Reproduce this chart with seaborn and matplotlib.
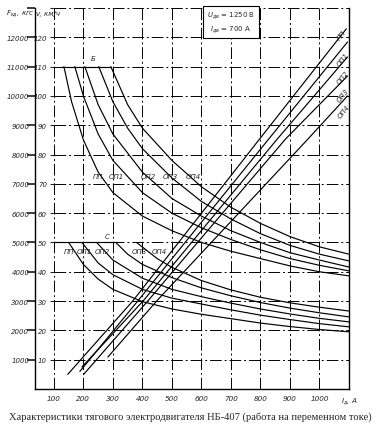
import matplotlib
matplotlib.use("Agg")
import matplotlib.pyplot as plt
import seaborn as sns
import pandas as pd

sns.set_theme(style="white")
plt.rcParams['font.family'] = ['DejaVu Sans']

modes = ["ПП", "ОП1", "ОП2", "ОП3", "ОП4"]

# Speed characteristics, position "Б" (I, A -> v, km/h)
b_pp_i = [134, 160, 200, 250, 300, 400, 500, 600, 700, 800, 900, 1000, 1100]
b_pp_v = [110, 98, 85, 74, 67, 59, 54, 50, 47, 44.5, 42, 40, 38.6]
b_op1_i = [171, 200, 250, 300, 400, 500, 600, 700, 800, 900, 1000, 1100]
b_op1_v = [110, 100, 87, 78, 67, 60, 55, 51, 47.5, 44.5, 42.2, 40.3]
b_op2_i = [205, 250, 300, 400, 500, 600, 700, 800, 900, 1000, 1100]
b_op2_v = [110, 97, 87, 74, 65, 59, 54, 50, 46.5, 44, 41.6]
b_op3_i = [252, 300, 350, 400, 500, 600, 700, 800, 900, 1000, 1100]
b_op3_v = [110, 98, 89, 82, 72, 64, 58, 53, 49, 46, 43.7]
b_op4_i = [293, 350, 400, 500, 600, 700, 800, 900, 1000, 1100]
b_op4_v = [110, 97, 89, 78, 69, 62, 56.5, 52, 48.5, 46]

# Speed characteristics, position "С"
c_pp_i = [150, 200, 250, 300, 400, 500, 600, 700, 800, 900, 1000, 1100]
c_pp_v = [50, 42.5, 37.5, 34, 29.8, 27.3, 25.5, 24, 22.5, 21.3, 20.3, 19.5]
c_op1_i = [195, 250, 300, 400, 500, 600, 700, 800, 900, 1000, 1100]
c_op1_v = [50, 43, 39, 34, 31, 29, 27, 25.2, 23.7, 22.3, 21.2]
c_op2_i = [245, 300, 400, 500, 600, 700, 800, 900, 1000, 1100]
c_op2_v = [50, 44, 37.8, 34, 31.5, 29.3, 27.3, 25.6, 24.1, 22.9]
c_op3_i = [310, 350, 400, 500, 600, 700, 800, 900, 1000, 1100]
c_op3_v = [50, 46, 42.5, 38, 34.5, 31.8, 29.5, 27.6, 26, 24.6]
c_op4_i = [380, 450, 500, 600, 700, 800, 900, 1000, 1100]
c_op4_v = [50, 44.5, 41.5, 37, 33.8, 31.3, 29.4, 27.9, 26.6]

# Tractive force (I, A -> F, kgf)
f_pp_i = [147, 367, 797, 1091]
f_pp_f = [500, 3000, 8530, 12290]
f_op1_i = [188, 384, 828, 1095]
f_op1_f = [600, 3000, 8530, 11840]
f_op2_i = [195, 402, 857, 1095]
f_op2_f = [750, 3000, 8530, 11330]
f_op3_i = [201, 418, 885, 1095]
f_op3_f = [500, 3000, 8530, 10680]
f_op4_i = [283, 448, 961, 1095]
f_op4_f = [1090, 3000, 8530, 10000]

# speed limit lines
lim_b_i = [120, 293]
lim_b_v = [110, 110]
lim_c_i = [100, 310]
lim_c_v = [50, 50]

v_ticks = [10, 20, 30, 40, 50, 60, 70, 80, 90, 100, 110, 120, 130]
f_ticks = [1000, 2000, 3000, 4000, 5000, 6000, 7000, 8000, 9000, 10000, 11000, 12000, 13000]
i_ticks = [100, 200, 300, 400, 500, 600, 700, 800, 900, 1000, 1100]

caption = "Характеристики тягового электродвигателя НБ-407 (работа на переменном токе)"

# ---------- build long tables ----------
rows = []
speed_sets = [
    ("Б", [(b_pp_i, b_pp_v), (b_op1_i, b_op1_v), (b_op2_i, b_op2_v), (b_op3_i, b_op3_v), (b_op4_i, b_op4_v)]),
    ("С", [(c_pp_i, c_pp_v), (c_op1_i, c_op1_v), (c_op2_i, c_op2_v), (c_op3_i, c_op3_v), (c_op4_i, c_op4_v)]),
]
for pos, series in speed_sets:
    for m, (ii, vv) in zip(modes, series):
        for a, b in zip(ii, vv):
            rows.append({"I": a, "v": b, "curve": f"{pos}-{m}"})
for name, ii, vv in [("limБ", lim_b_i, lim_b_v), ("limС", lim_c_i, lim_c_v)]:
    for a, b in zip(ii, vv):
        rows.append({"I": a, "v": b, "curve": name})
df_v = pd.DataFrame(rows)

rows = []
for m, (ii, ff) in zip(modes, [(f_pp_i, f_pp_f), (f_op1_i, f_op1_f), (f_op2_i, f_op2_f),
                               (f_op3_i, f_op3_f), (f_op4_i, f_op4_f)]):
    for a, b in zip(ii, ff):
        rows.append({"I": a, "F": b, "curve": m})
df_f = pd.DataFrame(rows)

# ---------- figure ----------
W, H = 381, 431
fig = plt.figure(figsize=(W / 100, H / 100), dpi=100)
x0, x1, y0, y1 = 35, 349, 390, 9
ax = fig.add_axes([x0 / W, (H - y0) / H, (x1 - x0) / W, (y0 - y1) / H])
I_MIN, I_MAX, V_MAX = 36, 1100, 130
ax.set_xlim(I_MIN, I_MAX)
ax.set_ylim(0, V_MAX)

# drawing-style grid: starts at the speed axis (I = 100)
gls = (0, (12, 3, 2, 3))
ax.hlines(v_ticks, i_ticks[0], I_MAX, colors="black", lw=0.7, linestyles=[gls], zorder=0.5)
ax.vlines(i_ticks[:-1], 0, V_MAX, colors="black", lw=0.7, linestyles=[gls], zorder=0.5)

ax.set_xticks(i_ticks)
ax.set_yticks(v_ticks)
ax.grid(False)
ax.tick_params(axis="y", left=False, labelleft=False)
ax.set_xticklabels([str(t) for t in i_ticks[:-1]] + ["$I_д$, А"])
ax.tick_params(axis="x", length=0, pad=4, labelsize=5.2)
for lab in ax.get_xticklabels():
    lab.set_fontstyle("italic")
for s in ["left", "bottom", "right"]:
    ax.spines[s].set_visible(True)
    ax.spines[s].set_color("black")
    ax.spines[s].set_linewidth(1.0)
ax.spines["top"].set_visible(False)

sns.lineplot(data=df_v, x="I", y="v", units="curve", estimator=None, sort=False,
             color="black", lw=0.85, ax=ax, legend=False)
ax.set_xlabel("")
ax.set_ylabel("")

# force axis (twin, kgf)
axF = ax.twinx()
axF.set_ylim(0, 13000)
sns.lineplot(data=df_f, x="I", y="F", units="curve", estimator=None, sort=False,
             color="black", lw=0.85, ax=axF, legend=False)
axF.set_ylabel("")
axF.set_xlabel("")
axF.set_yticks(f_ticks)
axF.set_yticklabels([str(t) for t in f_ticks[:-1]] + [""])
axF.yaxis.set_ticks_position("left")
axF.yaxis.set_label_position("left")
axF.tick_params(axis="y", length=0, pad=4, labelsize=5.0)
for lab in axF.get_yticklabels():
    lab.set_fontstyle("italic")
for s in axF.spines.values():
    s.set_visible(False)
axF.grid(False)

# speed axis at I = 100
loc = (i_ticks[0] - I_MIN) / (I_MAX - I_MIN)
axV = ax.secondary_yaxis(loc)
axV.set_yticks(v_ticks)
axV.set_yticklabels([str(t) for t in v_ticks[:-1]] + [""])
axV.tick_params(axis="y", length=3, width=0.8, pad=2, labelsize=5.0)
for lab in axV.get_yticklabels():
    lab.set_fontstyle("italic")
for s in axV.spines.values():
    s.set_visible(False)

# header labels
fig.text(20 / W, 1 - 14 / H, "$F_{кд}$, кгс", fontsize=5, style="italic", ha="center", va="center")
fig.text(48 / W, 1 - 14 / H, "v, км/ч", fontsize=5, style="italic", ha="center", va="center")

# curve labels
tk = dict(fontsize=5, style="italic", ha="center", va="center")
ax.text(232, 112.8, "Б", **tk)
ax.text(280, 52.3, "С", **tk)
for m, xi in zip(modes, [249, 310, 421, 494, 572]):
    ax.text(xi, 72.7, m, **tk)
for m, xi in zip(modes, [151, 202, 263, 388, 456]):
    ax.text(xi, 47.1, m, **tk)
for m, (xi, yi) in zip(modes, [(1076, 121), (1078, 112.5), (1080, 106.5), (1080, 100.5), (1082, 95)]):
    ax.text(xi, yi, m, rotation=51, **tk)

# parameters box
ax.text(700, 125.3, "$U_{дв}$ = 1250 В\n$I_{дв}$ = 700 А", fontsize=5, ha="center", va="center",
        linespacing=1.4, bbox=dict(boxstyle="square,pad=0.5", fc="white", ec="black", lw=0.8))

fig.text(0.5, 1 - 417 / H, caption, fontsize=7.6, family="Liberation Serif", ha="center", va="center")

fig.savefig("out.png", dpi=100)
